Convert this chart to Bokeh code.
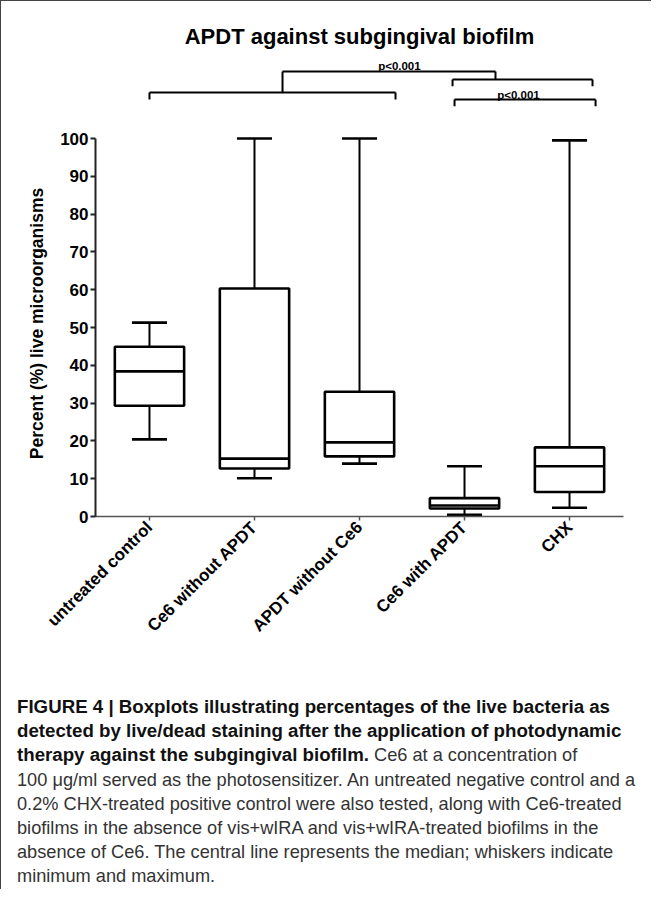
import math
from bokeh.plotting import figure
from bokeh.models import Range1d, FixedTicker, Div, ColumnDataSource
from bokeh.layouts import column
from bokeh.embed import file_html
from bokeh.resources import INLINE
from bokeh.core.properties import value

# ---------------- data ----------------
categories = ["untreated control", "Ce6 without APDT", "APDT without Ce6",
              "Ce6 with APDT", "CHX"]
minimum = [20.4, 10.1, 14.0, 0.45, 2.3]
q1 = [29.3, 12.7, 15.9, 2.1, 6.5]
median = [38.4, 15.3, 19.6, 2.9, 13.3]
q3 = [44.9, 60.3, 33.0, 4.85, 18.3]
maximum = [51.3, 100.0, 100.0, 13.3, 99.5]
y_ticks = [0, 10, 20, 30, 40, 50, 60, 70, 80, 90, 100]
y_label = "Percent (%) live microorganisms"
title_text = "APDT against subgingival biofilm"
p_labels = ["p<0.001", "p<0.001"]

caption_lines = [
    ("FIGURE 4 | Boxplots illustrating percentages of the live bacteria as", ""),
    ("detected by live/dead staining after the application of photodynamic", ""),
    ("therapy against the subgingival biofilm.", " Ce6 at a concentration of"),
    ("", "100 \u03bcg/ml served as the photosensitizer. An untreated negative control and a"),
    ("", "0.2% CHX-treated positive control were also tested, along with Ce6-treated"),
    ("", "biofilms in the absence of vis+wIRA and vis+wIRA-treated biofilms in the"),
    ("", "absence of Ce6. The central line represents the median; whiskers indicate"),
    ("", "minimum and maximum."),
]

# ---------------- layout constants ----------------
FONT = "Liberation Sans"
W = 650
PX = 3.78                    # pixels per percent unit
FRAME_H = 386                # chart frame height (0 .. ~102)
Y_TOP = FRAME_H / PX
TOP_H = 129                  # header figure (title + brackets)
CHART_H = 552
DIV_H = 207
ML, MR = 94, 28
BOX_HALF = 0.33
CAP_HALF = 0.167

x_range = Range1d(-0.514, 4.514)
xs = list(range(len(categories)))
src = ColumnDataSource(dict(
    x=xs,
    left=[x - BOX_HALF for x in xs], right=[x + BOX_HALF for x in xs],
    cl=[x - CAP_HALF for x in xs], cr=[x + CAP_HALF for x in xs],
    mn=minimum, q1=q1, med=median, q3=q3, mx=maximum,
))

# ---------------- header: title and significance brackets ----------------
top = figure(width=W, height=TOP_H, x_range=x_range,
             y_range=Range1d(Y_TOP, Y_TOP + TOP_H / PX),
             x_axis_type=None, y_axis_type=None,
             output_backend="svg", toolbar_location=None,
             min_border_left=ML, min_border_right=MR, min_border_top=0, min_border_bottom=0)
top.outline_line_color = None
top.background_fill_color = "white"
top.border_fill_color = "white"

top.text(x=[2.0], y=[127.0], text=[title_text], text_font=value(FONT),
         text_font_style="bold", text_font_size="22px", text_align="center",
         text_baseline="alphabetic", text_color="black")

bx0 = [0.0, 0.0, 2.343, 2.886, 2.886, 4.219, 2.905, 2.905, 4.248, 1.267, 1.267, 3.295]
by0 = [110.3, 112.2, 112.2, 113.8, 115.6, 115.6, 108.5, 110.3, 110.3, 112.2, 117.7, 117.7]
bx1 = [0.0, 2.343, 2.343, 2.886, 4.219, 4.219, 2.905, 4.248, 4.248, 1.267, 3.295, 3.295]
by1 = [112.2, 112.2, 110.3, 115.6, 115.6, 113.8, 110.3, 110.3, 108.5, 117.7, 117.7, 115.6]
top.segment(x0=bx0, y0=by0, x1=bx1, y1=by1, line_color="black", line_width=2)
top.text(x=[2.38, 3.514], y=[119.3, 111.6], text=p_labels, text_font=value(FONT),
         text_font_style="bold", text_font_size="11.5px", text_align="center",
         text_baseline="alphabetic", text_color="black")

# ---------------- chart ----------------
p = figure(width=W, height=CHART_H, x_range=x_range, y_range=Range1d(0, Y_TOP),
           output_backend="svg", toolbar_location=None,
           min_border_left=ML, min_border_right=MR, min_border_top=0,
           min_border_bottom=CHART_H - FRAME_H)
p.outline_line_color = None
p.xgrid.visible = False
p.ygrid.visible = False
p.background_fill_color = "white"
p.border_fill_color = "white"

# whiskers
p.segment(x0="x", y0="mn", x1="x", y1="q1", source=src, line_color="black", line_width=2)
p.segment(x0="x", y0="q3", x1="x", y1="mx", source=src, line_color="black", line_width=2)
p.segment(x0="cl", y0="mn", x1="cr", y1="mn", source=src, line_color="black", line_width=2.6)
p.segment(x0="cl", y0="mx", x1="cr", y1="mx", source=src, line_color="black", line_width=2.6)
# boxes and medians
p.quad(left="left", right="right", bottom="q1", top="q3", source=src,
       fill_color="white", line_color="black", line_width=2.6)
p.segment(x0="left", y0="med", x1="right", y1="med", source=src, line_color="black", line_width=2.6)

xa = p.xaxis[0]
xa.ticker = FixedTicker(ticks=xs)
xa.major_label_overrides = {i: c for i, c in enumerate(categories)}
xa.major_label_orientation = math.pi / 4
xa.major_label_text_font = FONT
xa.major_label_text_font_style = "bold"
xa.major_label_text_font_size = "17px"
xa.major_label_text_color = "black"
xa.major_label_standoff = 4
xa.axis_line_color = "#555555"
xa.axis_line_width = 1.5
xa.major_tick_line_color = "#555555"
xa.major_tick_line_width = 1.5
xa.major_tick_in = 0
xa.major_tick_out = 4
xa.minor_tick_line_color = None

ya = p.yaxis[0]
ya.ticker = FixedTicker(ticks=y_ticks)
ya.bounds = (0, 100)
ya.axis_label = y_label
ya.axis_label_text_font = FONT
ya.axis_label_text_font_style = "bold"
ya.axis_label_text_font_size = "17.5px"
ya.axis_label_text_color = "black"
ya.axis_label_standoff = 10
ya.major_label_text_font = FONT
ya.major_label_text_font_style = "bold"
ya.major_label_text_font_size = "17px"
ya.major_label_text_color = "black"
ya.major_label_standoff = 2
ya.axis_line_color = "#222222"
ya.axis_line_width = 2
ya.major_tick_line_color = "#222222"
ya.major_tick_line_width = 2
ya.major_tick_in = 0
ya.major_tick_out = 5
ya.minor_tick_line_color = None

# ---------------- caption ----------------
rows = []
for bold, reg in caption_lines:
    seg = ""
    if bold:
        seg += "<span style='font-weight:bold;color:#111;font-size:18.7px;'>%s</span>" % bold
    if reg:
        seg += "<span style='color:#333;'>%s</span>" % reg
    rows.append("<div style='height:24.2px;line-height:24.2px;white-space:nowrap;'>%s</div>" % seg)
caption_html = ("<div style=\"font-family:'Liberation Sans',Arial,sans-serif;font-size:18.2px;"
                "padding-left:16px;padding-top:13px;\">" + "".join(rows) + "</div>")
div = Div(text=caption_html, width=W, height=DIV_H, margin=(0, 0, 0, 0))

layout = column(top, p, div, spacing=0,
                styles={"border-left": "1px solid #444", "border-top": "1px solid #444"})
open("out.html", "w").write(file_html(layout, INLINE))
